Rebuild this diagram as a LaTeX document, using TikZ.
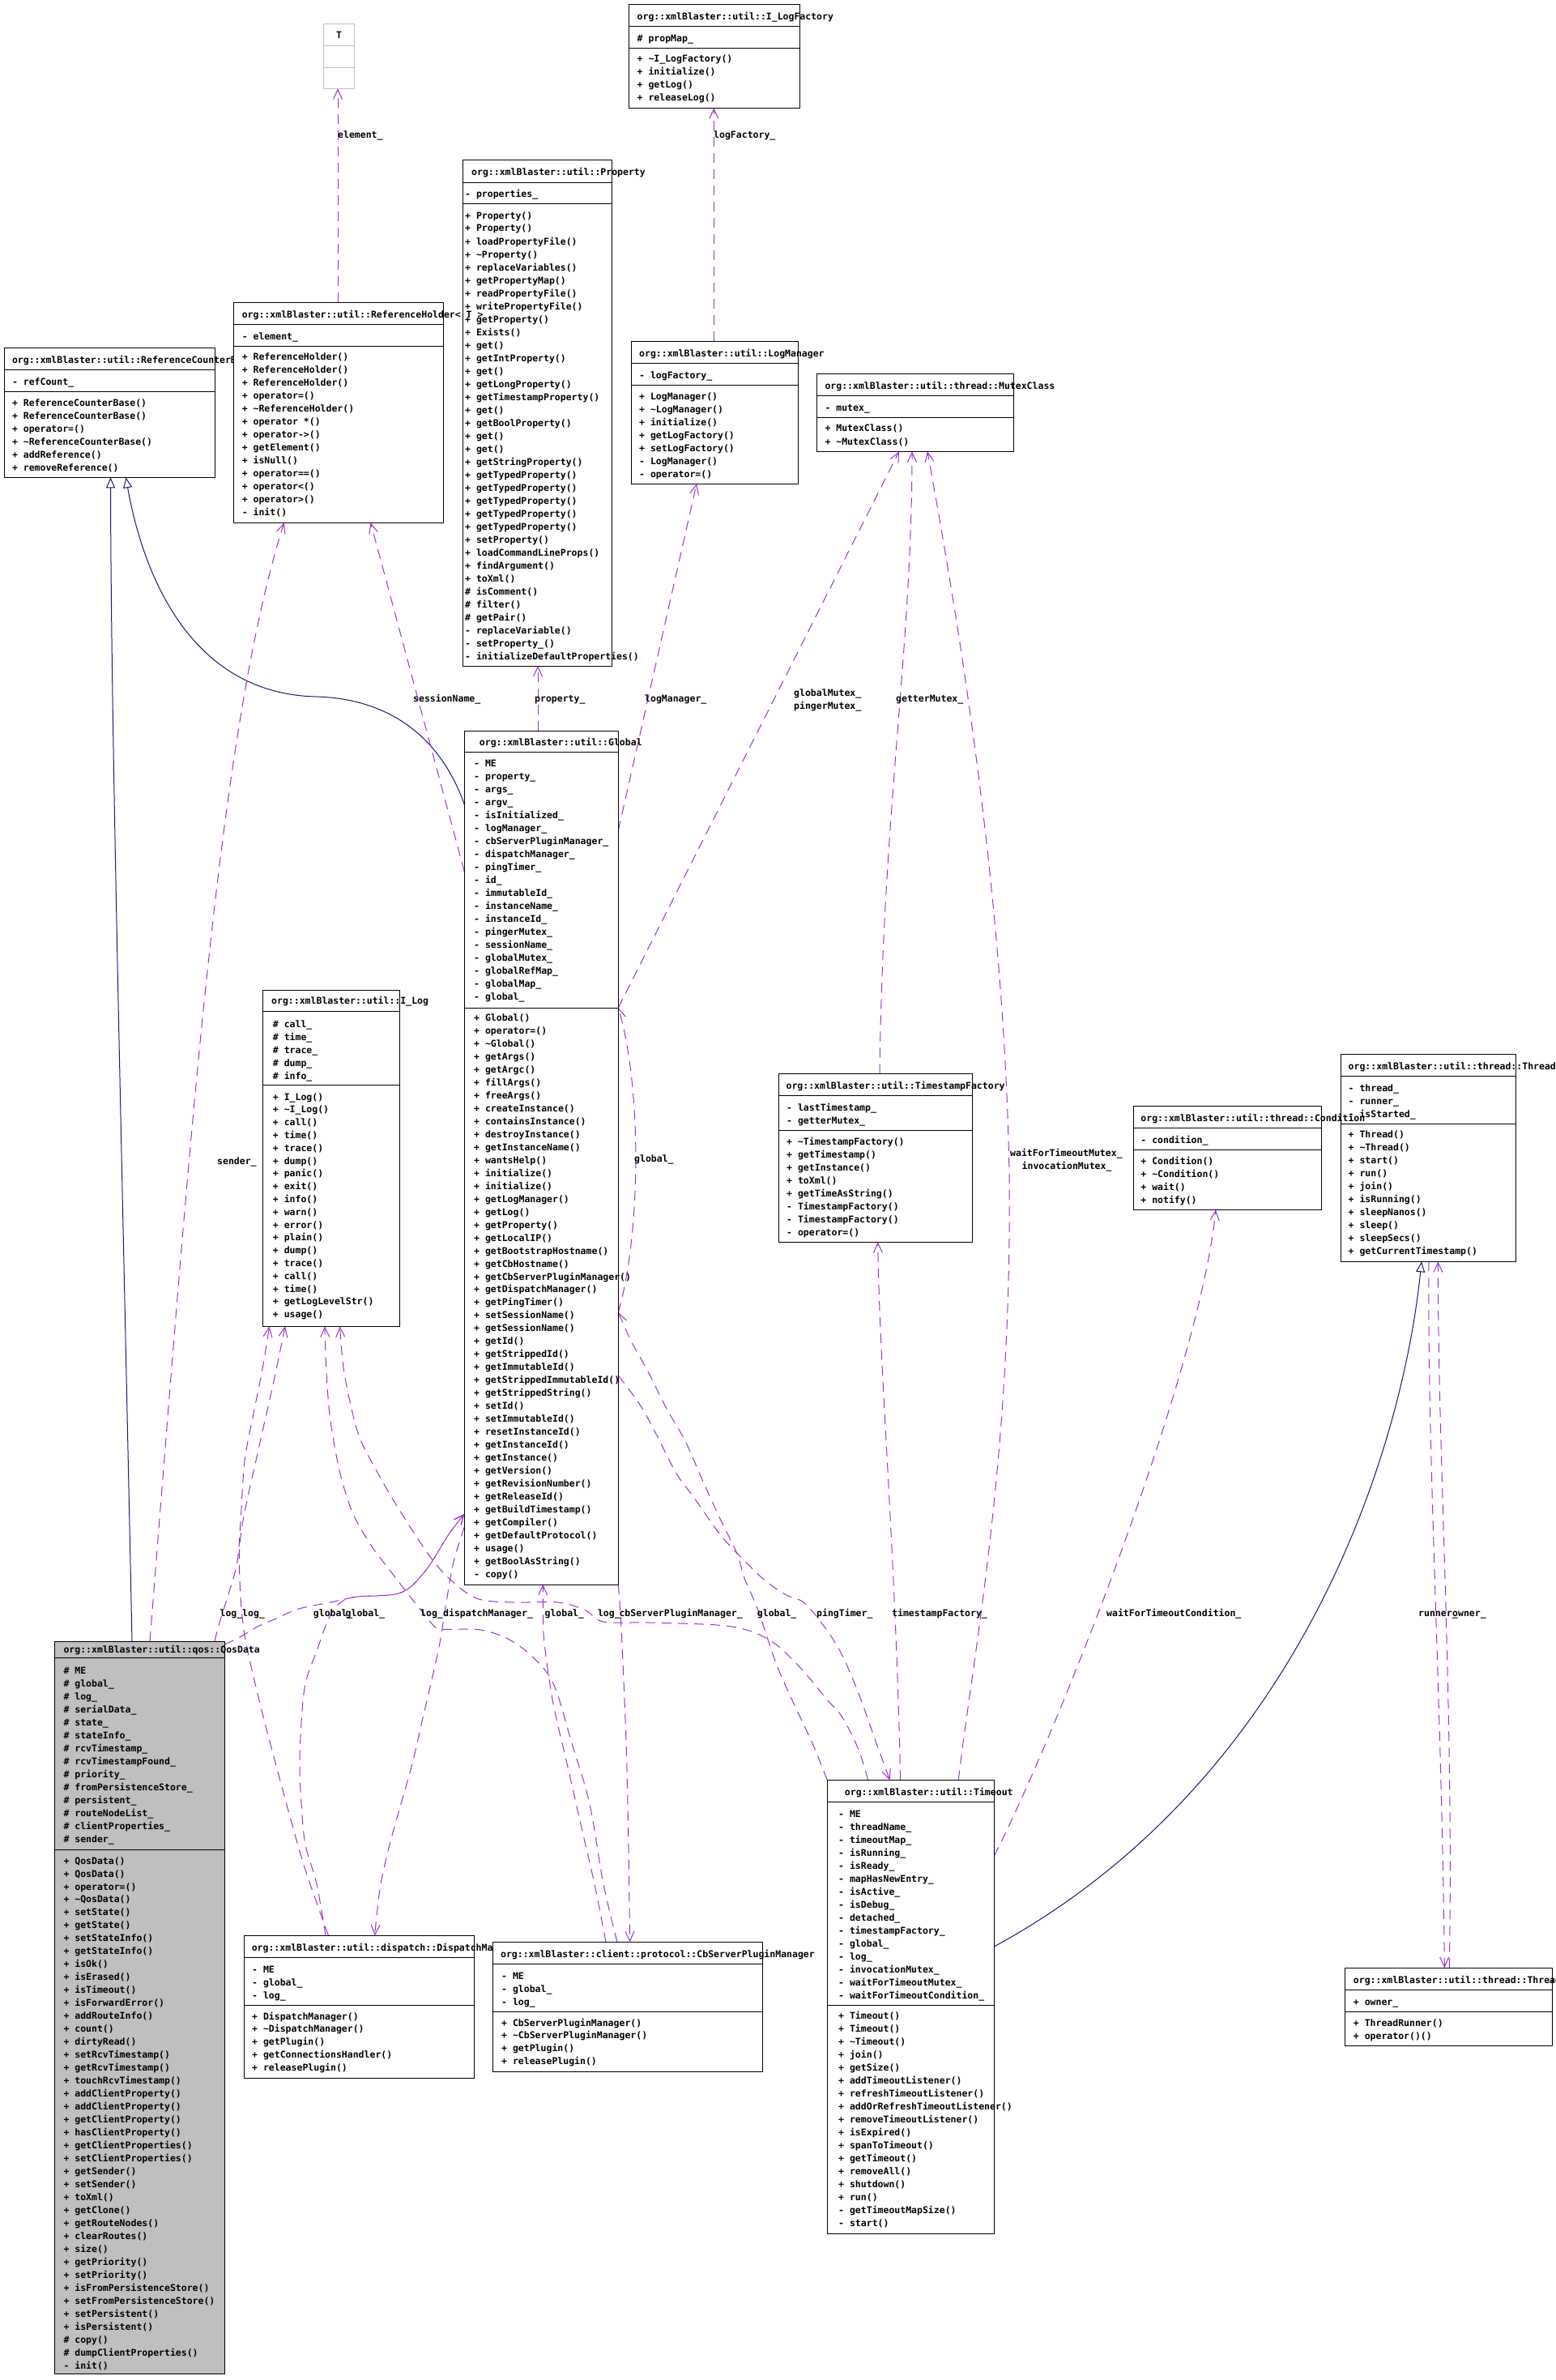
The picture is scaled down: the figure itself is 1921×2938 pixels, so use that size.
\documentclass[tikz,border=0pt]{standalone}
\usepackage{fontspec}
\newfontfamily\dfont{DejaVu Sans Mono}
\usetikzlibrary{arrows.meta}
\definecolor{dep}{HTML}{9A32CD}
\definecolor{inh}{HTML}{191970}
\definecolor{qgray}{HTML}{BFBFBF}
\tikzset{
 boxst/.style={draw=black, line width=1pt, inner sep=0pt, outer sep=0pt},
 txt/.style={anchor=base west, inner sep=0pt, font=\dfont\bfseries\fontsize{11.5}{13}\selectfont},
 usedep/.style={draw=dep, line width=1pt, dash pattern=on 12pt off 8pt, -{Straight Barb[length=12pt,width=11pt]}},
 inhline/.style={draw=inh, line width=1pt, -{Triangle[open,length=13pt,width=11pt,fill=white]}},
 smoothp/.style={smooth, tension=0.55},
}
\newcommand\classbox[6]{\node[boxst, fill=#6, anchor=north west, minimum width={#4-#2}, minimum height={#5-#3}] (#1) at (#2,#3) {};}
\newcommand\sepline[4]{\draw[line width=1pt,#4] (#1,#3) -- (#2,#3);}
% prefix, x, y0, step, list
\newcommand\textrows[5]{\foreach \s [count=\i from 0] in {#5} {\node[txt] (#1-\i) at (#2, #3+#4*\i+4) {\s};}}
\begin{document}
\begin{tikzpicture}[x=1pt,y=-1pt]
\useasboundingbox (0,0) rectangle (1921,2938);
% ---------------- coordinates for connector ends
\coordinate (tB) at (417,109.3);
\coordinate (rhT) at (417,373.3);
\coordinate (lfB) at (881.3,133.3);
\coordinate (lmT) at (881.3,421.3);
\coordinate (rcB1) at (136.5,589.3);
\coordinate (rcB2) at (155.4,589.3);
\coordinate (rhB1) at (350.7,645.3);
\coordinate (rhB2) at (457.6,645.3);
\coordinate (prB) at (664,822);
\coordinate (glT) at (664,902.4);
\coordinate (lmB) at (860,597.3);
\coordinate (mxB1) at (1110,557.3);
\coordinate (mxB2) at (1126,557.3);
\coordinate (mxB3) at (1145,557.3);
\coordinate (glL1) at (573.3,993);
\coordinate (glL2) at (573.3,1076);
\coordinate (glL3) at (573.3,1869);
\coordinate (glL4) at (573.3,1885);
\coordinate (glR1) at (763.3,1025);
\coordinate (glR2) at (763.3,1244);
\coordinate (glR3) at (763.3,1620);
\coordinate (glR4) at (763.3,1698);
\coordinate (glB1) at (670.4,1956);
\coordinate (glB2) at (763.3,1956);
\coordinate (ilB1) at (332.6,1637.3);
\coordinate (ilB2) at (352,1637.3);
\coordinate (ilB3) at (401,1637.3);
\coordinate (ilB4) at (419.6,1637.3);
\coordinate (tfT) at (1086,1325.3);
\coordinate (tfB) at (1083.7,1533.3);
\coordinate (cdB) at (1501,1493.3);
\coordinate (thB1) at (1755,1557.3);
\coordinate (thB2) at (1764,1557.3);
\coordinate (thB3) at (1775.4,1557.3);
\coordinate (qdT1) at (163,2026);
\coordinate (qdT2) at (185,2026);
\coordinate (qdT3) at (265,2026);
\coordinate (qdT4) at (277.3,2030);
\coordinate (dmT1) at (405.5,2389.3);
\coordinate (dmT2) at (402,2389.3);
\coordinate (dmT3) at (462.8,2389.3);
\coordinate (cbT1) at (748,2397.3);
\coordinate (cbT2) at (762,2397.3);
\coordinate (cbT3) at (777.6,2397.3);
\coordinate (toT1) at (1021.3,2197.4);
\coordinate (toT2) at (1071.7,2197.4);
\coordinate (toT3) at (1098.6,2197.4);
\coordinate (toT4) at (1111.7,2197.4);
\coordinate (toT5) at (1183.3,2197.4);
\coordinate (toR1) at (1227.3,2291);
\coordinate (toR2) at (1227.3,2403);
\coordinate (trT1) at (1783.3,2429.3);
\coordinate (trT2) at (1789.3,2429.3);
% ---------------- connectors
\draw[usedep] (rhT) -- (tB);
\draw[usedep] (lmT) -- (lfB);
\draw[inhline] (qdT1) .. controls (150,1400) and (137,900) .. (rcB1);
\draw[inhline] (glL1) .. controls (540,900) and (470,862) .. (390,860) .. controls (230,856) and (175,700) .. (rcB2);
\draw[usedep] (qdT2) .. controls (235,1400) and (270,900) .. (rhB1);
\draw[usedep] (glL2) -- (rhB2);
\draw[usedep] (glT) -- (prB);
\draw[usedep] (glR1) -- (lmB);
\draw[usedep] (glR2) -- (mxB1);
\draw[usedep] (tfT) .. controls (1090,1000) and (1126,800) .. (mxB2);
\draw[usedep] (toT5) .. controls (1200,2050) and (1250,1800) .. (1246,1450) .. controls (1240,1100) and (1180,750) .. (mxB3);
\draw[usedep] (toR1) .. controls (1300,2150) and (1480,1700) .. (cdB);
\draw[inhline] (toR2) .. controls (1600,2200) and (1730,1800) .. (thB1);
\draw[usedep] (trT2) .. controls (1795,2100) and (1775,1800) .. (thB3);
\draw[usedep] (thB2) .. controls (1762,1800) and (1780,2100) .. (trT1);
\draw[usedep] (toT4) .. controls (1105,1900) and (1086,1700) .. (tfB);
\draw[usedep] (glR3) .. controls (792,1520) and (792,1340) .. (glR2);
% Timeout global_
\draw[usedep] plot[smoothp] coordinates {(toT1) (1003,2152) (980,2103) (958,2053) (936,1988) (919,1948) (910,1918) (891,1879) (868,1829) (846,1779) (823,1739) (801,1695) (779,1655) (glR3)};
% pingTimer_
\draw[usedep] plot[smoothp] coordinates {(glR4) (790,1734) (812,1774) (835,1819) (857,1849) (885,1889) (902,1909) (941,1948) (969,1968) (992,1978) (1014,2003) (1037,2038) (1059,2088) (1082,2152) (toT3)};
% log_ edges
\draw[usedep] plot[smoothp] coordinates {(qdT3) (271,2003) (282,1968) (293,1928) (297,1879) (302,1804) (314,1740) (324,1690) (ilB1)};
\draw[usedep] plot[smoothp] coordinates {(dmT1) (375,2302) (347,2202) (321,2103) (302,2018) (296,1950) (298,1889) (318,1794) (338,1705) (ilB2)};
\draw[usedep] plot[smoothp] coordinates {(cbT2) (745,2326) (728,2227) (706,2152) (683,2078) (655,2043) (627,2023) (599,2013) (577,2011) (543,2011) (532,2003) (520,1988) (504,1968) (481,1938) (459,1909) (436,1869) (420,1819) (408,1754) (403,1695) (ilB3)};
\draw[usedep] plot[smoothp] coordinates {(toT2) (1060,2160) (1040,2120) (1020,2097) (992,2063) (958,2030) (925,2013) (885,2006) (801,2003) (745,2002) (723,1988) (689,1978) (633,1978) (588,1973) (554,1948) (532,1923) (509,1889) (487,1854) (464,1814) (442,1769) (425,1695) (ilB4)};
% global_ edges into Global
\draw[usedep] plot[smoothp] coordinates {(qdT4) (296,2021) (318,2008) (341,1998) (369,1986) (408,1978) (442,1971) (495,1966) (526,1938) (554,1894) (glL3)};
\draw[usedep] plot[smoothp] coordinates {(dmT2) (391,2326) (377,2277) (372,2227) (370,2177) (372,2127) (377,2078) (391,2038) (408,1993) (425,1975) (442,1971) (495,1966) (526,1938) (554,1894) (glL3)};
\draw[usedep] plot[smoothp] coordinates {(glL4) (560,1928) (551,1978) (543,2028) (532,2078) (520.6,2127) (509,2177) (495,2227) (481,2277) (470,2326) (464.5,2370) (dmT3)};
\draw[usedep] plot[smoothp] coordinates {(cbT1) (734,2326) (717,2252) (700,2177) (683,2103) (672,2028) (670.4,1985) (glB1)};
\draw[usedep] plot[smoothp] coordinates {(glB2) (767,2010) (773,2150) (776,2280) (cbT3)};
% ---------------- connector labels
\node[txt] (l-element) at (417,171) {element\_};
\node[txt] (l-logfac) at (881,171) {logFactory\_};
\node[txt] (l-sess) at (510,866) {sessionName\_};
\node[txt] (l-prop) at (660,866) {property\_};
\node[txt] (l-logman) at (796,866) {logManager\_};
\node[txt] (l-gmutex) at (980,859) {globalMutex\_};
\node[txt] (l-pmutex) at (980,875) {pingerMutex\_};
\node[txt] (l-getter) at (1106,866) {getterMutex\_};
\node[txt] (l-wftm) at (1247,1427) {waitForTimeoutMutex\_};
\node[txt] (l-invm) at (1261.5,1443) {invocationMutex\_};
\node[txt] (l-sender) at (268,1437) {sender\_};
\node[txt] (l-gself) at (783,1434) {global\_};
\node[txt] (l-b1) at (271.4,1995.7) {log\_};
\node[txt] (l-b2) at (299,1995.7) {log\_};
\node[txt] (l-b3) at (386.7,1995.7) {global\_};
\node[txt] (l-b4) at (426.5,1995.7) {global\_};
\node[txt] (l-b5) at (519,1995.7) {log\_};
\node[txt] (l-b6) at (547,1995.7) {dispatchManager\_};
\node[txt] (l-b7) at (672.4,1995.7) {global\_};
\node[txt] (l-b8) at (737.8,1995.7) {log\_};
\node[txt] (l-b9) at (764.3,1995.7) {cbServerPluginManager\_};
\node[txt] (l-b10) at (934.7,1995.7) {global\_};
\node[txt] (l-b11) at (1008,1995.7) {pingTimer\_};
\node[txt] (l-b12) at (1101,1995.7) {timestampFactory\_};
\node[txt] (l-b13) at (1366,1995.7) {waitForTimeoutCondition\_};
\node[txt] (l-b14) at (1751,1995.7) {runner\_};
\node[txt] (l-b15) at (1793,1995.7) {owner\_};
% ---------------- T
\node[boxst, draw=qgray, fill=white, anchor=north west, minimum width=37.9, minimum height=80] (T) at (399.6,29.3) {};
\sepline{399.6}{437.5}{56.7}{qgray}
\sepline{399.6}{437.5}{83.3}{qgray}
\node[txt, anchor=base] (T-t) at (418.5,48) {T};
% ---------------- I_LogFactory
\classbox{ilf}{776.3}{5.3}{987.3}{133.3}{white}
\sepline{776.3}{987.3}{32.7}{black}
\sepline{776.3}{987.3}{59.3}{black}
\node[txt] (ilf-t) at (786.5,24.3) {org::xmlBlaster::util::I\_LogFactory};
\textrows{ilf-a}{786.5}{47.7}{16}{\# propMap\_}
\textrows{ilf-m}{786.5}{72.7}{16.1}{+ \textasciitilde I\_LogFactory(), + initialize(), + getLog(), + releaseLog()}
% ---------------- ReferenceCounterBase
\classbox{rc}{5.5}{429.3}{265.6}{589.3}{white}
\sepline{5.5}{265.6}{456.7}{black}
\sepline{5.5}{265.6}{483.3}{black}
\node[txt] (rc-t) at (14.8,448) {org::xmlBlaster::util::ReferenceCounterBase};
\textrows{rc-a}{14.8}{471}{16}{- refCount\_}
\textrows{rc-m}{14.8}{497}{16}{+ ReferenceCounterBase(), + ReferenceCounterBase(), + operator=(), + \textasciitilde ReferenceCounterBase(), + addReference(), + removeReference()}
% ---------------- ReferenceHolder
\classbox{rh}{288.6}{373.3}{547.5}{645.3}{white}
\sepline{288.6}{547.5}{400.7}{black}
\sepline{288.6}{547.5}{427.3}{black}
\textrows{rh-a}{298.6}{415}{16}{- element\_}
\textrows{rh-m}{298.6}{440.7}{16}{+ ReferenceHolder(), + ReferenceHolder(), + ReferenceHolder(), + operator=(), + \textasciitilde ReferenceHolder(), + operator *(), + operator->(), + getElement(), + isNull(), + operator==(), + operator<(), + operator>(), - init()}
% ---------------- Property
\classbox{pr}{571.3}{198}{755.7}{822}{white}
\sepline{571.3}{755.7}{225.5}{black}
\sepline{571.3}{755.7}{252}{black}
\node[txt] (pr-t) at (582,217) {org::xmlBlaster::util::Property};
\textrows{pr-a}{574}{239.5}{16}{- properties\_}
\textrows{pr-m}{574}{266}{16}{+ Property(), + Property(), + loadPropertyFile(), + \textasciitilde Property(), + replaceVariables(), + getPropertyMap(), + readPropertyFile(), + writePropertyFile(), + getProperty(), + Exists(), + get(), + getIntProperty(), + get(), + getLongProperty(), + getTimestampProperty(), + get(), + getBoolProperty(), + get(), + get(), + getStringProperty(), + getTypedProperty(), + getTypedProperty(), + getTypedProperty(), + getTypedProperty(), + getTypedProperty(), + setProperty(), + loadCommandLineProps(), + findArgument(), + toXml(), \# isComment(), \# filter(), \# getPair(), - replaceVariable(), - setProperty\_(), - initializeDefaultProperties()}
\node[txt] (rh-t) at (298.6,392) {org::xmlBlaster::util::ReferenceHolder< T >};
% ---------------- LogManager
\classbox{lm}{779.3}{421.3}{985.3}{597.3}{white}
\sepline{779.3}{985.3}{448.3}{black}
\sepline{779.3}{985.3}{475.3}{black}
\node[txt] (lm-t) at (789,440) {org::xmlBlaster::util::LogManager};
\textrows{lm-a}{789}{463.3}{16}{- logFactory\_}
\textrows{lm-m}{789}{489}{16}{+ LogManager(), + \textasciitilde LogManager(), + initialize(), + getLogFactory(), + setLogFactory(), - LogManager(), - operator=()}
% ---------------- MutexClass
\classbox{mx}{1008.3}{461.3}{1251.7}{557.3}{white}
\sepline{1008.3}{1251.7}{488.7}{black}
\sepline{1008.3}{1251.7}{515.7}{black}
\node[txt] (mx-t) at (1018.3,480) {org::xmlBlaster::util::thread::MutexClass};
\textrows{mx-a}{1018.3}{503.3}{16}{- mutex\_}
\textrows{mx-m}{1018.3}{528.7}{16.3}{+ MutexClass(), + \textasciitilde MutexClass()}
% ---------------- Global
\classbox{gl}{573.3}{902.4}{763.3}{1956}{white}
\sepline{573.3}{763.3}{928.6}{black}
\sepline{573.3}{763.3}{1244}{black}
\node[txt] (gl-t) at (591.7,920) {org::xmlBlaster::util::Global};
\textrows{gl-a}{585}{942.3}{16}{- ME, - property\_, - args\_, - argv\_, - isInitialized\_, - logManager\_, - cbServerPluginManager\_, - dispatchManager\_, - pingTimer\_, - id\_, - immutableId\_, - instanceName\_, - instanceId\_, - pingerMutex\_, - sessionName\_, - globalMutex\_, - globalRefMap\_, - globalMap\_, - global\_}
\textrows{gl-m}{585}{1256.4}{15.98}{+ Global(), + operator=(), + \textasciitilde Global(), + getArgs(), + getArgc(), + fillArgs(), + freeArgs(), + createInstance(), + containsInstance(), + destroyInstance(), + getInstanceName(), + wantsHelp(), + initialize(), + initialize(), + getLogManager(), + getLog(), + getProperty(), + getLocalIP(), + getBootstrapHostname(), + getCbHostname(), + getCbServerPluginManager(), + getDispatchManager(), + getPingTimer(), + setSessionName(), + getSessionName(), + getId(), + getStrippedId(), + getImmutableId(), + getStrippedImmutableId(), + getStrippedString(), + setId(), + setImmutableId(), + resetInstanceId(), + getInstanceId(), + getInstance(), + getVersion(), + getRevisionNumber(), + getReleaseId(), + getBuildTimestamp(), + getCompiler(), + getDefaultProtocol(), + usage(), + getBoolAsString(), - copy()}
% ---------------- I_Log
\classbox{il}{324}{1222}{493.3}{1637.3}{white}
\sepline{324}{493.3}{1248.3}{black}
\sepline{324}{493.3}{1339.3}{black}
\node[txt] (il-t) at (335,1239.3) {org::xmlBlaster::util::I\_Log};
\textrows{il-a}{336.7}{1264}{16}{\# call\_, \# time\_, \# trace\_, \# dump\_, \# info\_}
\textrows{il-m}{336.7}{1354}{15.8}{+ I\_Log(), + \textasciitilde I\_Log(), + call(), + time(), + trace(), + dump(), + panic(), + exit(), + info(), + warn(), + error(), + plain(), + dump(), + trace(), + call(), + time(), + getLogLevelStr(), + usage()}
% ---------------- TimestampFactory
\classbox{tf}{961.1}{1325.3}{1200.2}{1533.3}{white}
\sepline{961.1}{1200.2}{1352.3}{black}
\sepline{961.1}{1200.2}{1395.7}{black}
\node[txt] (tf-t) at (970.4,1344.3) {org::xmlBlaster::util::TimestampFactory};
\textrows{tf-a}{971}{1367}{16}{- lastTimestamp\_, - getterMutex\_}
\textrows{tf-m}{971}{1409}{16}{+ \textasciitilde TimestampFactory(), + getTimestamp(), + getInstance(), + toXml(), + getTimeAsString(), - TimestampFactory(), - TimestampFactory(), - operator=()}
% ---------------- Thread
\classbox{th}{1655.3}{1301.3}{1871.4}{1557.3}{white}
\sepline{1655.3}{1871.4}{1328.3}{black}
\sepline{1655.3}{1871.4}{1387.3}{black}
\node[txt] (th-t) at (1664.5,1320) {org::xmlBlaster::util::thread::Thread};
\textrows{th-a}{1664.5}{1343}{16}{- thread\_, - runner\_, - isStarted\_}
\textrows{th-m}{1664.5}{1400.7}{16}{+ Thread(), + \textasciitilde Thread(), + start(), + run(), + join(), + isRunning(), + sleepNanos(), + sleep(), + sleepSecs(), + getCurrentTimestamp()}
% ---------------- Condition
\classbox{cd}{1399.5}{1365.3}{1631.1}{1493.3}{white}
\sepline{1399.5}{1631.1}{1392.3}{black}
\sepline{1399.5}{1631.1}{1419.3}{black}
\node[txt] (cd-t) at (1408.2,1384) {org::xmlBlaster::util::thread::Condition};
\textrows{cd-a}{1408.2}{1407.3}{16}{- condition\_}
\textrows{cd-m}{1408.2}{1433}{16}{+ Condition(), + \textasciitilde Condition(), + wait(), + notify()}
% ---------------- QosData
\classbox{qd}{67.3}{2026}{277.3}{2930}{qgray}
\sepline{67.3}{277.3}{2046.7}{black}
\sepline{67.3}{277.3}{2283.4}{black}
\node[txt] (qd-t) at (78.3,2040.3) {org::xmlBlaster::util::qos::QosData};
\textrows{qd-a}{78.3}{2062.7}{16}{\# ME, \# global\_, \# log\_, \# serialData\_, \# state\_, \# stateInfo\_, \# rcvTimestamp\_, \# rcvTimestampFound\_, \# priority\_, \# fromPersistenceStore\_, \# persistent\_, \# routeNodeList\_, \# clientProperties\_, \# sender\_}
\textrows{qd-m}{78.3}{2297}{15.99}{+ QosData(), + QosData(), + operator=(), + \textasciitilde QosData(), + setState(), + getState(), + setStateInfo(), + getStateInfo(), + isOk(), + isErased(), + isTimeout(), + isForwardError(), + addRouteInfo(), + count(), + dirtyRead(), + setRcvTimestamp(), + getRcvTimestamp(), + touchRcvTimestamp(), + addClientProperty(), + addClientProperty(), + getClientProperty(), + hasClientProperty(), + getClientProperties(), + setClientProperties(), + getSender(), + setSender(), + toXml(), + getClone(), + getRouteNodes(), + clearRoutes(), + size(), + getPriority(), + setPriority(), + isFromPersistenceStore(), + setFromPersistenceStore(), + setPersistent(), + isPersistent(), \# copy(), \# dumpClientProperties(), - init()}
% ---------------- DispatchManager
\classbox{dm}{301.4}{2389.3}{585.5}{2565.3}{white}
\sepline{301.4}{585.5}{2416.7}{black}
\sepline{301.4}{585.5}{2475.3}{black}
\node[txt] (dm-t) at (310.6,2408.7) {org::xmlBlaster::util::dispatch::DispatchManager};
\textrows{dm-a}{311}{2431}{16}{- ME, - global\_, - log\_}
\textrows{dm-m}{311}{2489}{15.9}{+ DispatchManager(), + \textasciitilde DispatchManager(), + getPlugin(), + getConnectionsHandler(), + releasePlugin()}
% ---------------- CbServerPluginManager
\classbox{cb}{608.2}{2397.3}{941.5}{2557.3}{white}
\sepline{608.2}{941.5}{2424.7}{black}
\sepline{608.2}{941.5}{2483.3}{black}
\node[txt] (cb-t) at (617.9,2416.3) {org::xmlBlaster::client::protocol::CbServerPluginManager};
\textrows{cb-a}{619}{2439}{16}{- ME, - global\_, - log\_}
\textrows{cb-m}{619}{2497}{15.9}{+ CbServerPluginManager(), + \textasciitilde CbServerPluginManager(), + getPlugin(), + releasePlugin()}
% ---------------- Timeout
\classbox{to}{1021.3}{2197.4}{1227.3}{2757.1}{white}
\sepline{1021.3}{1227.3}{2224.4}{black}
\sepline{1021.3}{1227.3}{2475.6}{black}
\node[txt] (to-t) at (1042.7,2216.2) {org::xmlBlaster::util::Timeout};
\textrows{to-a}{1035}{2239.2}{16}{- ME, - threadName\_, - timeoutMap\_, - isRunning\_, - isReady\_, - mapHasNewEntry\_, - isActive\_, - isDebug\_, - detached\_, - timestampFactory\_, - global\_, - log\_, - invocationMutex\_, - waitForTimeoutMutex\_, - waitForTimeoutCondition\_}
\textrows{to-m}{1035}{2488.9}{15.98}{+ Timeout(), + Timeout(), + \textasciitilde Timeout(), + join(), + getSize(), + addTimeoutListener(), + refreshTimeoutListener(), + addOrRefreshTimeoutListener(), + removeTimeoutListener(), + isExpired(), + spanToTimeout(), + getTimeout(), + removeAll(), + shutdown(), + run(), - getTimeoutMapSize(), - start()}
% ---------------- ThreadRunner
\classbox{tr}{1660.7}{2429.3}{1916.7}{2525}{white}
\sepline{1660.7}{1916.7}{2456.3}{black}
\sepline{1660.7}{1916.7}{2483.3}{black}
\node[txt] (tr-t) at (1670.7,2448.3) {org::xmlBlaster::util::thread::ThreadRunner};
\textrows{tr-a}{1670.7}{2471.7}{16}{+ owner\_}
\textrows{tr-m}{1670.7}{2497.3}{16}{+ ThreadRunner(), + operator()()}
\end{tikzpicture}
\end{document}
